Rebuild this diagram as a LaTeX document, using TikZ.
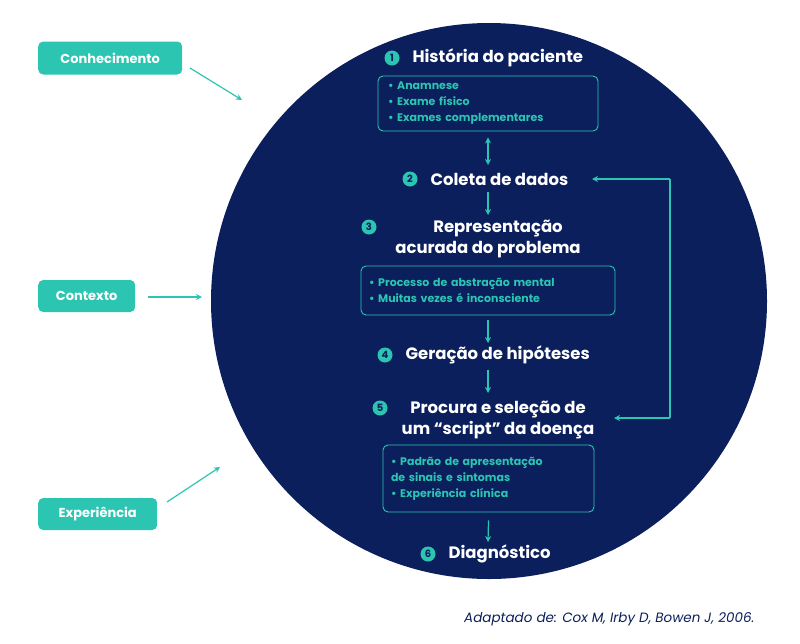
\documentclass[tikz,border=0pt]{standalone}
\usepackage{fontspec}
\setmainfont{Poppins}
\usetikzlibrary{arrows.meta}
\definecolor{navy}{HTML}{0B1F5C}
\definecolor{teal}{HTML}{2CC5B2}
\tikzset{
 tag/.style={fill=teal,rounded corners=5pt,text=white,font=\bfseries\fontsize{13}{15}\selectfont,inner sep=0pt,anchor=west},
 ttl/.style={text=white,font=\bfseries\fontsize{16.5}{21}\selectfont,align=center},
 num/.style={circle,fill=teal,text=navy,font=\bfseries\fontsize{10}{10}\selectfont,inner sep=0pt,minimum size=15pt},
 lst/.style={draw=teal,line width=0.9pt,rounded corners=5pt,text=teal,font=\bfseries\fontsize{11}{16}\selectfont,align=left,inner sep=0pt},
 arr/.style={teal,line width=1.2pt,-{Stealth[length=6pt,width=6pt]}},
}
\begin{document}
\begin{tikzpicture}[x=1pt,y=-1pt]
\useasboundingbox (0,0) rectangle (800,643);
\fill[navy] (489,301) circle (278);
% left tags
\node[tag,minimum width=144pt,minimum height=33pt] (k) at (38,58) {Conhecimento};
\node[tag,minimum width=97pt,minimum height=32pt] (c) at (38,296) {Contexto};
\node[tag,minimum width=119pt,minimum height=32pt] (e) at (38,514) {Experiência};
\coordinate (k1) at (190,68); \coordinate (k2) at (242,100);
\coordinate (c1) at (148,297); \coordinate (c2) at (202,297);
\coordinate (e1) at (167,502); \coordinate (e2) at (220,467);
\draw[arr] (k1) -- (k2);
\draw[arr] (c1) -- (c2);
\draw[arr] (e1) -- (e2);
% steps
\node[ttl,anchor=west] (t1) at (409,58) {História do paciente};
\node[num] at (392,58) {1};
\node[lst,minimum width=220pt,minimum height=55pt,text width=200pt] (b1) at (488,103.5) {• Anamnese\\• Exame físico\\• Exames complementares};
\node[ttl,anchor=west] (t2) at (427,179) {Coleta de dados};
\node[num] at (410,179) {2};
\node[ttl] (t3) at (488,238.5) {\hspace*{20pt}Representação\\acurada do problema};
\node[num] at (369,227) {3};
\node[lst,minimum width=254pt,minimum height=49pt,text width=238pt] (b3) at (488,290.5) {• Processo de abstração mental\\• Muitas vezes é inconsciente};
\node[ttl,anchor=west] (t4) at (402,355) {Geração de hipóteses};
\node[num] at (385,355) {4};
\node[ttl] (t5) at (498,420.5) {Procura e seleção de\\um “script” da doença};
\node[num] at (380,408) {5};
\node[lst,minimum width=211pt,minimum height=67pt,text width=195pt] (b5) at (488.5,478.5) {• Padrão de apresentação\\de sinais e sintomas\\• Experiência clínica};
\node[ttl,anchor=west] (t6) at (445,554) {Diagnóstico};
\node[num] at (428,554) {6};
% arrows
\draw[teal,line width=1.2pt,{Stealth[length=6pt,width=6pt]}-{Stealth[length=6pt,width=6pt]}] (b1.south) ++(0,6) -- (488,165);
\draw[arr] (488,192) -- (488,215);
\draw[arr] (b3.south) ++(0,5) -- (488,343);
\draw[arr] (488,370) -- (488,393);
\draw[arr] (b5.south) ++(0,8) -- (488,542);
\coordinate (f1) at (670,418); \coordinate (f2) at (670,179);
\draw[teal,line width=1.2pt] (f1) -- (f2);
\draw[arr] (f1) -- (614,418);
\draw[arr] (f2) -- (592,179);
\node[anchor=east,text=navy,font=\itshape\fontsize{13.5}{16}\selectfont] (cap) at (758,619) {Adaptado de: Cox M, Irby D, Bowen J, 2006.};
\end{tikzpicture}
\end{document}
